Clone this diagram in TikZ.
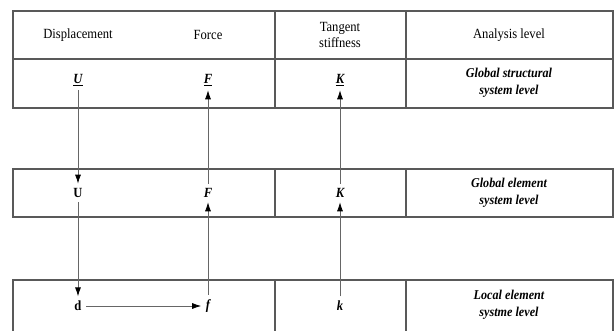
\documentclass[tikz,border=0pt]{standalone}
\usepackage{fontspec}
\setmainfont[FakeStretch=0.9]{Liberation Serif}
\usetikzlibrary{arrows.meta}
\begin{document}
\begin{tikzpicture}[x=1pt,y=-1pt,
  grid/.style={draw=black!65,line width=1.2pt},
  lbl/.style={font=\fontsize{14}{16}\selectfont,align=center,inner sep=0pt},
  lvl/.style={font=\fontsize{13.5}{16.5}\selectfont\bfseries\itshape,align=center,inner sep=0pt},
  sym/.style={font=\fontsize{14}{16}\selectfont\bfseries,inner sep=4.5pt},
  conn/.style={draw=black!60,line width=0.8pt,-{Latex[length=9pt,width=6pt,black]}}]
\useasboundingbox (0,0) rectangle (616,331);
% table rows
\draw[grid] (13,11) rectangle (613,108);
\draw[grid] (13,59) -- (613,59);
\draw[grid] (275,11) -- (275,108);
\draw[grid] (406,11) -- (406,108);
\draw[grid] (13,169) rectangle (613,217);
\draw[grid] (275,169) -- (275,217);
\draw[grid] (406,169) -- (406,217);
\draw[grid] (13,335) -- (13,280) -- (613,280) -- (613,335);
\draw[grid] (275,280) -- (275,335);
\draw[grid] (406,280) -- (406,335);
% header
\node[lbl] (h1) at (78,35) {Displacement};
\node[lbl] (h2) at (208,35) {Force};
\node[lbl] (h3) at (340,35) {Tangent\\stiffness};
\node[lbl] (h4) at (509,35) {Analysis level};
% level labels
\node[lvl] (l1) at (509,83) {Global structural\\system level};
\node[lvl] (l2) at (509,193) {Global element\\system level};
\node[lvl] (l3) at (509,305) {Local element\\systme level};
% symbols
\node[sym] (U1) at (78,80) {\underline{\itshape U}};
\node[sym] (F1) at (208,80) {\underline{\itshape F}};
\node[sym] (K1) at (340,80) {\underline{\itshape K}};
\node[sym] (U2) at (78,193) {U};
\node[sym] (F2) at (208,193) {\itshape F};
\node[sym] (K2) at (340,193) {\itshape K};
\node[sym] (d) at (78,306) {d};
\node[sym] (f) at (208,306) {\itshape f};
\node[sym] (k) at (340,306) {\itshape k};
% connectors
\draw[conn] (U1) -- (U2);
\draw[conn] (U2) -- (d);
\draw[conn] (d) -- (f);
\draw[conn] (f) -- (F2);
\draw[conn] (F2) -- (F1);
\draw[conn] (k) -- (K2);
\draw[conn] (K2) -- (K1);
\end{tikzpicture}
\end{document}
